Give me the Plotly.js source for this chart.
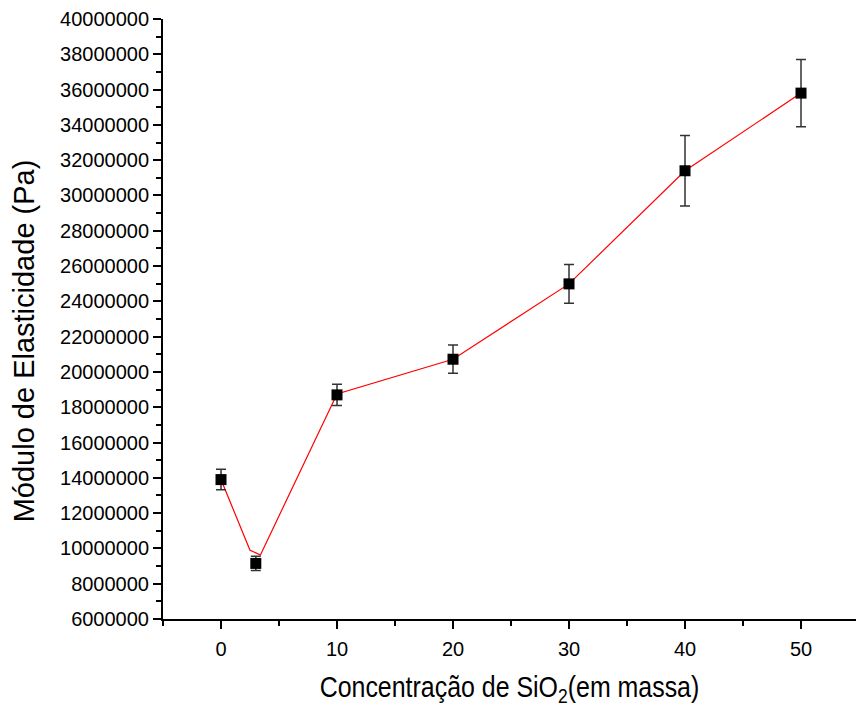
<!DOCTYPE html>
<html>
<head>
<meta charset="utf-8">
<script src="https://cdn.plot.ly/plotly-3.0.1.min.js"></script>
<style>html,body{margin:0;padding:0;background:#fff;}#chart{width:856px;height:719px;}</style>
</head>
<body>
<div id="chart"></div>
<script>
// Measured points (SiO2 mass %, elastic modulus in Pa)
const concentration = [0, 3, 10, 20, 30, 40, 50];
const modulus = [13900000, 9150000, 18700000, 20720000, 24990000, 31400000, 35800000];
const modulusErr = [580000, 400000, 600000, 800000, 1100000, 2000000, 1900000];

// Red connecting curve as drawn in the figure
const lineX = [0, 2.5, 3.4, 10, 20, 25.5, 30, 40, 50];
const lineY = [13900000, 9900000, 9630000, 18750000, 20720000, 23050000, 24990000, 31400000, 35800000];

const yTickVals = [6000000, 8000000, 10000000, 12000000, 14000000, 16000000, 18000000, 20000000,
  22000000, 24000000, 26000000, 28000000, 30000000, 32000000, 34000000, 36000000, 38000000, 40000000];
const yTickText = yTickVals.map(v => String(v));
const xTickVals = [0, 10, 20, 30, 40, 50];

const font = 'Arial, "Liberation Sans", sans-serif';

const traces = [
  {
    x: lineX, y: lineY, type: 'scatter', mode: 'lines',
    line: {color: '#ff0000', width: 1.2},
    hoverinfo: 'skip', showlegend: false
  },
  {
    x: concentration, y: modulus, type: 'scatter', mode: 'markers',
    marker: {symbol: 'square', size: 11, color: '#000000'},
    error_y: {type: 'data', array: modulusErr, visible: true, color: '#333333', thickness: 1.5, width: 5},
    showlegend: false
  }
];

const layout = {
  width: 856, height: 719,
  margin: {l: 163, r: 0, t: 19, b: 100},
  paper_bgcolor: '#ffffff', plot_bgcolor: '#ffffff',
  showlegend: false,
  font: {family: font, color: '#000000'},
  xaxis: {
    range: [-5, 54.74],
    tickvals: xTickVals, ticktext: xTickVals.map(String),
    ticks: 'outside', ticklen: 8, tickwidth: 2, tickcolor: '#000',
    minor: {dtick: 5, tick0: 5, ticks: 'outside', ticklen: 5, tickwidth: 2, tickcolor: '#000'},
    showline: true, linecolor: '#000', linewidth: 2,
    showgrid: false, zeroline: false,
    tickfont: {size: 20},
    ticklabelstandoff: 3,
    title: {text: 'Concentração de SiO<sub>2</sub>(em massa)', font: {size: 29}, standoff: 18}
  },
  yaxis: {
    range: [6000000, 40000000],
    tickvals: yTickVals, ticktext: yTickText,
    ticks: 'outside', ticklen: 8, tickwidth: 2, tickcolor: '#000',
    minor: {dtick: 1000000, tick0: 7000000, ticks: 'outside', ticklen: 5, tickwidth: 2, tickcolor: '#000'},
    showline: true, linecolor: '#000', linewidth: 2,
    showgrid: false, zeroline: false,
    tickfont: {size: 20},
    title: {text: 'Módulo de Elasticidade (Pa)', font: {size: 29}, standoff: 14}
  }
};

Plotly.newPlot('chart', traces, layout, {displayModeBar: false, staticPlot: true}).then(function (gd) {
  // The original x-axis title is set in a horizontally condensed face
  const t = gd.querySelector('.xtitle');
  if (t) {
    const bb = t.getBBox();
    const cx = bb.x + bb.width / 2;
    const prev = t.getAttribute('transform') || '';
    t.setAttribute('transform', 'translate(' + cx + ',0) scale(0.86,1) translate(' + (-cx) + ',0) ' + prev);
  }
  // The original y-axis title sits somewhat below the axis midpoint
  const yt = gd.querySelector('.ytitle');
  if (yt) {
    const prev = yt.getAttribute('transform') || '';
    yt.setAttribute('transform', 'translate(-3,22) ' + prev);
  }
});
</script>
</body>
</html>
